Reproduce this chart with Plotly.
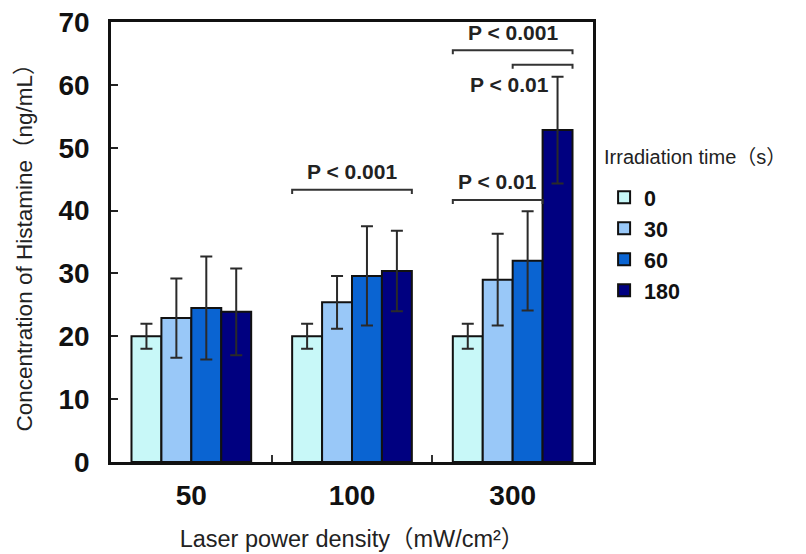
import plotly.graph_objects as go

# ---- data ----
power_labels = ["50", "100", "300"]
times = ["0", "30", "60", "180"]
means = {
    "0":   [20.0, 20.0, 20.0],
    "30":  [22.9, 25.4, 29.0],
    "60":  [24.5, 29.6, 32.0],
    "180": [23.9, 30.4, 52.8],
}
sds = {
    "0":   [2.0, 2.0, 2.0],
    "30":  [6.3, 4.2, 7.3],
    "60":  [8.2, 7.9, 7.9],
    "180": [6.9, 6.4, 8.5],
}
colors = {"0": "#C8F8F8", "30": "#99C8F8", "60": "#0A64D2", "180": "#000080"}
legend_title = "Irradiation time（s）"

# significance brackets: (category index, first bar, last bar, bracket y, label, label y, label side)
sig_brackets = [
    (1, 0, 3, 43.3, "P < 0.001", 46.2, "center"),
    (2, 0, 2, 41.7, "P < 0.01", 44.6, "center"),
    (2, 0, 3, 65.5, "P < 0.001", 68.3, "center"),
    (2, 2, 3, 63.2, "P < 0.01", 60.0, "left"),
]

FONT = "Liberation Sans, Arial, Noto Sans CJK JP, sans-serif"
bargap = 0.255
group_w = 1 - bargap
bar_w = group_w / len(times)
xs = list(range(len(power_labels)))

fig = go.Figure()
for t in times:
    fig.add_trace(go.Bar(
        x=xs, y=means[t], name=t, legendgroup=t,
        marker=dict(color=colors[t], line=dict(color="#111111", width=2)),
        error_y=dict(type="data", array=sds[t], visible=True,
                     color="#2a2a2a", thickness=2, width=6),
    ))

tick_h = 0.65
for (cat, b0, b1, yb, label, ylab, side) in sig_brackets:
    x0 = cat - group_w / 2 + b0 * bar_w
    x1 = cat - group_w / 2 + (b1 + 1) * bar_w
    fig.add_shape(type="path",
                  path=f"M {x0},{yb - tick_h} L {x0},{yb} L {x1},{yb} L {x1},{yb - tick_h}",
                  xref="x", yref="y", line=dict(color="#333333", width=2))
    if side == "center":
        fig.add_annotation(x=(x0 + x1) / 2, y=ylab, text=label, showarrow=False,
                           xanchor="center", yanchor="middle",
                           font=dict(family=FONT, size=21, color="#222222", weight="bold"))
    else:
        fig.add_annotation(x=x0 + 0.07 + bar_w * 0.9, y=ylab, text=label, showarrow=False,
                           xanchor="right", yanchor="middle",
                           font=dict(family=FONT, size=21, color="#222222", weight="bold"))

fig.add_annotation(x=1.019, y=0.693, xref="paper", yref="paper", text=legend_title,
                   showarrow=False, xanchor="left", yanchor="middle",
                   font=dict(family=FONT, size=20, color="#222222"))

fig.update_layout(
    width=806, height=554, autosize=False,
    margin=dict(l=111, r=213, t=22, b=92, autoexpand=False),
    paper_bgcolor="white", plot_bgcolor="white",
    barmode="group", bargap=bargap, bargroupgap=0,
    font=dict(family=FONT, color="#111111"),
    legend=dict(
        font=dict(family=FONT, size=21.5, color="#111111", weight="bold"),
        x=1.023, xanchor="left", y=0.648, yanchor="top",
        tracegroupgap=0, itemsizing="constant", bgcolor="rgba(0,0,0,0)",
    ),
    showlegend=True,
)
fig.update_xaxes(
    range=[-0.5, 2.5], tickmode="array", tickvals=xs, ticktext=power_labels,
    ticks="", ticklabelstandoff=7, automargin=False,
    tickfont=dict(family=FONT, size=28, color="#111111", weight="bold"),
    minor=dict(tickmode="array", tickvals=[0.5, 1.5], ticks="inside", ticklen=7,
               tickwidth=2, tickcolor="#333333"),
    showline=True, linecolor="#111111", linewidth=2.5, mirror=True,
    showgrid=False, zeroline=False,
    title=dict(text="Laser power density（mW/cm²）", standoff=21,
               font=dict(family=FONT, size=23.5, color="#222222")),
)
fig.update_yaxes(
    range=[0, 70], tickmode="linear", tick0=0, dtick=10,
    ticks="inside", ticklen=7, tickwidth=2, tickcolor="#222222",
    ticklabelstandoff=13, automargin=False,
    tickfont=dict(family=FONT, size=28, color="#111111", weight="bold"),
    showline=True, linecolor="#111111", linewidth=2.5, mirror=True,
    showgrid=False, zeroline=False,
    title=dict(text="Concentration of Histamine（ng/mL）", standoff=20,
               font=dict(family=FONT, size=22.5, color="#222222")),
)

fig.write_html("out.html", config={"displayModeBar": False},
               post_script="document.body.style.margin='0';document.body.style.overflow='hidden';")
